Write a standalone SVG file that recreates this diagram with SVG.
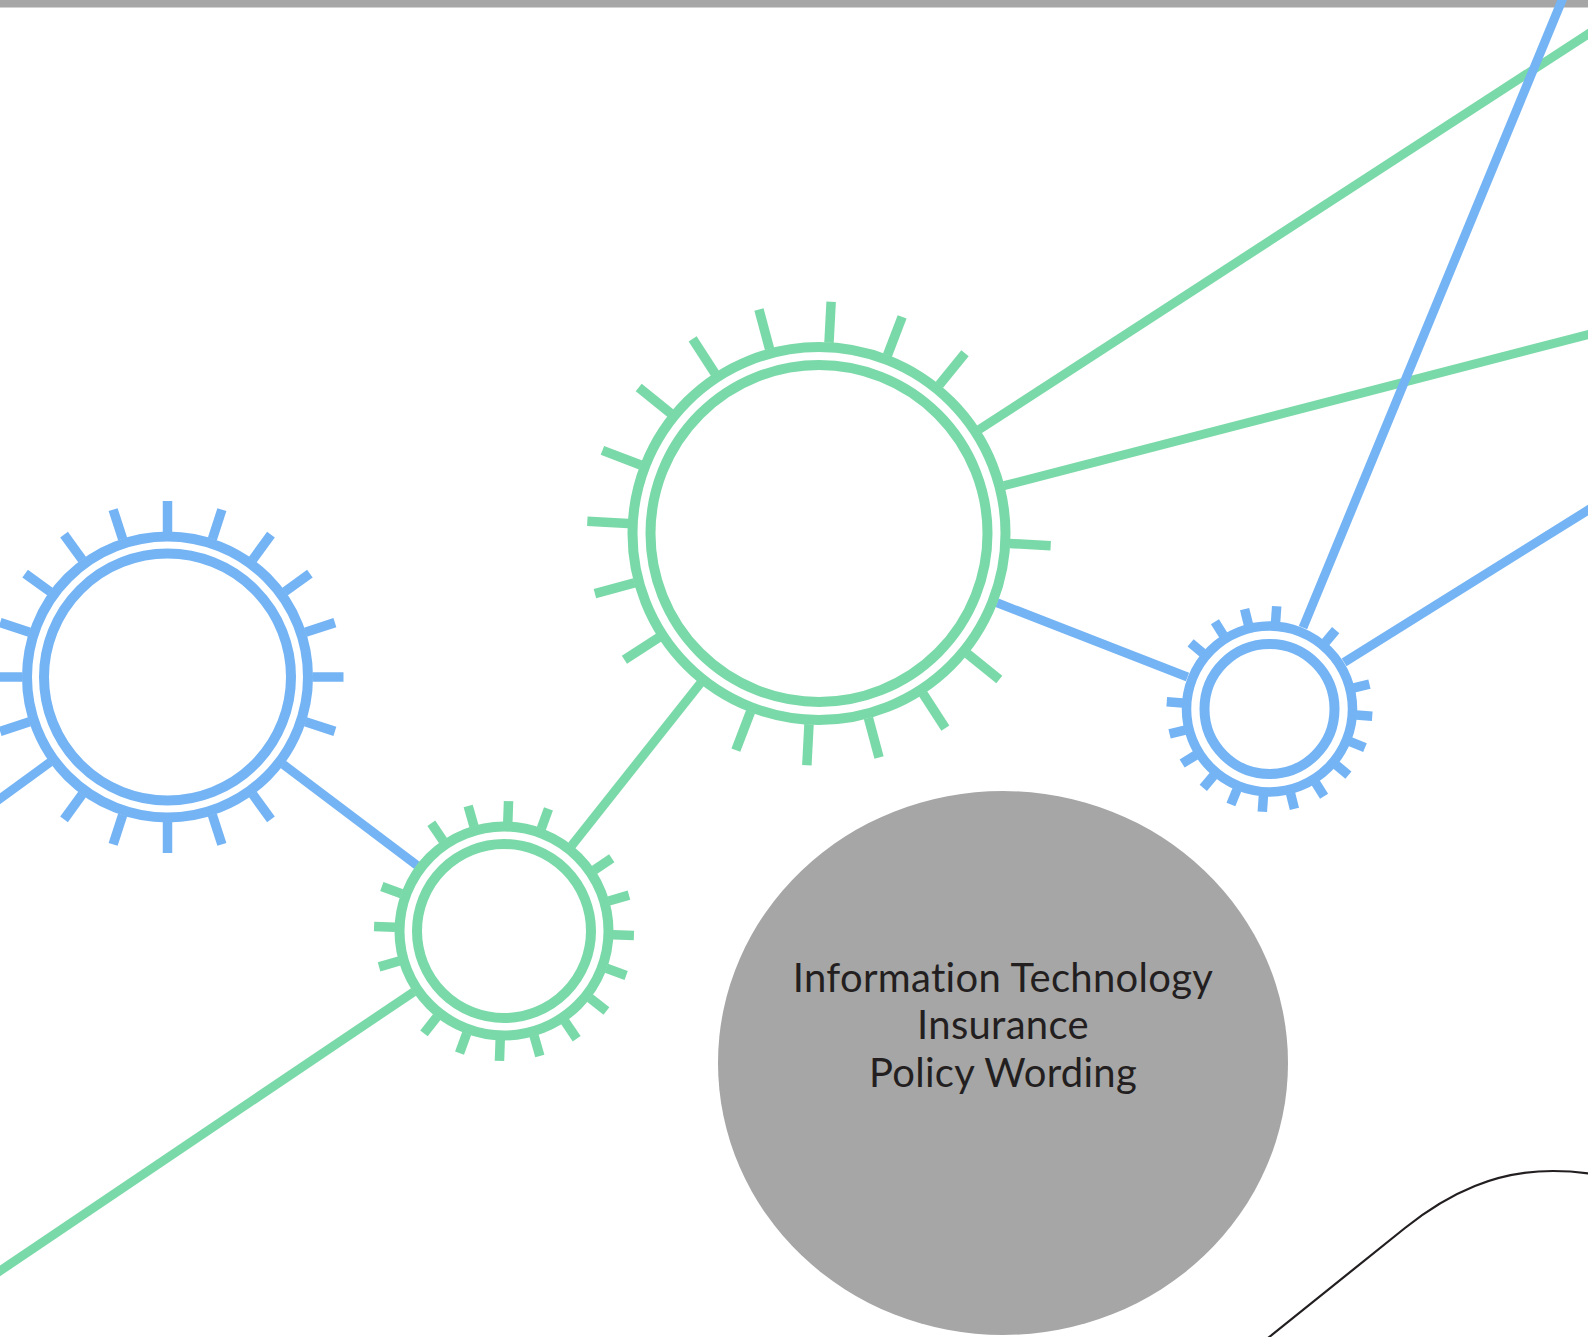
<svg xmlns="http://www.w3.org/2000/svg" width="1588" height="1337" viewBox="0 0 1588 1337">
<style>
.b{stroke:#74b4f5;fill:none}
.g{stroke:#7ad9a8;fill:none}
.ring{stroke-width:10}
.tk{stroke-width:9.5}
.conn{stroke-width:9}
.lbl{font-family:Lato,"Noto Sans",sans-serif;font-size:40px;letter-spacing:0.3px;fill:#231f20;text-anchor:middle;font-variant-ligatures:none;font-feature-settings:"liga" 0}
</style>
<rect x="0" y="0" width="1588" height="7.5" fill="#a6a6a6"/>
<g id="connectors">
<line class="b conn" x1="283.2" y1="764.4" x2="417" y2="865.3"/>
<line class="g conn" x1="571.7" y1="845.6" x2="700.4" y2="683.2"/>
<line class="b conn" x1="997" y1="602.8" x2="1187.5" y2="677"/>
<line class="b conn" x1="50.2" y1="762.2" x2="-10" y2="806"/>
<line class="g conn" x1="413.6" y1="991.9" x2="-10" y2="1277.6"/>
<line class="g conn" x1="979.2" y1="429.5" x2="1600" y2="26.4"/>
<line class="g conn" x1="1003.9" y1="485.7" x2="1600" y2="331.5"/>
<line class="b conn" x1="1303" y1="627.6" x2="1566.2" y2="-10"/>
<line class="b conn" x1="1344.1" y1="662.4" x2="1600" y2="502.6"/>
</g>
<g id="gear1" transform="translate(167.5,677)">
<circle class="b ring" r="140.5"/>
<circle class="b ring" r="123.5"/>
<g class="b tk">
<line y1="-145" y2="-176" transform="rotate(0)"/>
<line y1="-145" y2="-176" transform="rotate(18)"/>
<line y1="-145" y2="-176" transform="rotate(36)"/>
<line y1="-145" y2="-176" transform="rotate(54)"/>
<line y1="-145" y2="-176" transform="rotate(72)"/>
<line y1="-145" y2="-176" transform="rotate(90)"/>
<line y1="-145" y2="-176" transform="rotate(108)"/>
<line y1="-145" y2="-176" transform="rotate(144)"/>
<line y1="-145" y2="-176" transform="rotate(162)"/>
<line y1="-145" y2="-176" transform="rotate(180)"/>
<line y1="-145" y2="-176" transform="rotate(198)"/>
<line y1="-145" y2="-176" transform="rotate(216)"/>
<line y1="-145" y2="-176" transform="rotate(252)"/>
<line y1="-145" y2="-176" transform="rotate(270)"/>
<line y1="-145" y2="-176" transform="rotate(288)"/>
<line y1="-145" y2="-176" transform="rotate(306)"/>
<line y1="-145" y2="-176" transform="rotate(324)"/>
<line y1="-145" y2="-176" transform="rotate(342)"/>
</g>
</g>
<g id="gear2" transform="translate(504,931)">
<circle class="g ring" r="104.5"/>
<circle class="g ring" r="87"/>
<g class="g tk">
<line y1="-109" y2="-130" transform="rotate(2)"/>
<line y1="-109" y2="-130" transform="rotate(20)"/>
<line y1="-109" y2="-130" transform="rotate(56)"/>
<line y1="-109" y2="-130" transform="rotate(74)"/>
<line y1="-109" y2="-130" transform="rotate(92)"/>
<line y1="-109" y2="-130" transform="rotate(110)"/>
<line y1="-109" y2="-130" transform="rotate(128)"/>
<line y1="-109" y2="-130" transform="rotate(146)"/>
<line y1="-109" y2="-130" transform="rotate(164)"/>
<line y1="-109" y2="-130" transform="rotate(182)"/>
<line y1="-109" y2="-130" transform="rotate(200)"/>
<line y1="-109" y2="-130" transform="rotate(218)"/>
<line y1="-109" y2="-130" transform="rotate(254)"/>
<line y1="-109" y2="-130" transform="rotate(272)"/>
<line y1="-109" y2="-130" transform="rotate(290)"/>
<line y1="-109" y2="-130" transform="rotate(326)"/>
<line y1="-109" y2="-130" transform="rotate(344)"/>
</g>
</g>
<g id="gear3" transform="translate(819,533.5)">
<circle class="g ring" r="186.5"/>
<circle class="g ring" r="168.5"/>
<g class="g tk">
<line y1="-191" y2="-232" transform="rotate(3)"/>
<line y1="-191" y2="-232" transform="rotate(21)"/>
<line y1="-191" y2="-232" transform="rotate(39)"/>
<line y1="-191" y2="-232" transform="rotate(93)"/>
<line y1="-191" y2="-232" transform="rotate(129)"/>
<line y1="-191" y2="-232" transform="rotate(147)"/>
<line y1="-191" y2="-232" transform="rotate(165)"/>
<line y1="-191" y2="-232" transform="rotate(183)"/>
<line y1="-191" y2="-232" transform="rotate(201)"/>
<line y1="-191" y2="-232" transform="rotate(237)"/>
<line y1="-191" y2="-232" transform="rotate(255)"/>
<line y1="-191" y2="-232" transform="rotate(273)"/>
<line y1="-191" y2="-232" transform="rotate(291)"/>
<line y1="-191" y2="-232" transform="rotate(309)"/>
<line y1="-191" y2="-232" transform="rotate(327)"/>
<line y1="-191" y2="-232" transform="rotate(345)"/>
</g>
</g>
<g id="gear4" transform="translate(1269.5,709)">
<circle class="b ring" r="83" style="stroke-width:9.5"/>
<circle class="b ring" r="65"/>
<g class="b tk">
<line y1="-87" y2="-103" transform="rotate(4)"/>
<line y1="-87" y2="-103" transform="rotate(40)"/>
<line y1="-87" y2="-103" transform="rotate(76)"/>
<line y1="-87" y2="-103" transform="rotate(94)"/>
<line y1="-87" y2="-103" transform="rotate(112)"/>
<line y1="-87" y2="-103" transform="rotate(130)"/>
<line y1="-87" y2="-103" transform="rotate(148)"/>
<line y1="-87" y2="-103" transform="rotate(166)"/>
<line y1="-87" y2="-103" transform="rotate(184)"/>
<line y1="-87" y2="-103" transform="rotate(202)"/>
<line y1="-87" y2="-103" transform="rotate(220)"/>
<line y1="-87" y2="-103" transform="rotate(238)"/>
<line y1="-87" y2="-103" transform="rotate(256)"/>
<line y1="-87" y2="-103" transform="rotate(274)"/>
<line y1="-87" y2="-103" transform="rotate(310)"/>
<line y1="-87" y2="-103" transform="rotate(328)"/>
<line y1="-87" y2="-103" transform="rotate(346)"/>
</g>
</g>
<g id="title">
<ellipse cx="1003" cy="1063" rx="285" ry="272" fill="#a6a6a6"/>
<text class="lbl" x="1003" y="991.7">Information Technology</text>
<text class="lbl" x="1003" y="1039.2">Insurance</text>
<text class="lbl" x="1003" y="1086.7">Policy Wording</text>
</g>
<path d="M1268,1338 L1405,1228 C1450,1192 1497,1171 1553,1171 C1567,1171 1579,1172 1592,1174" fill="none" stroke="#231f20" stroke-width="2.2"/>
</svg>
